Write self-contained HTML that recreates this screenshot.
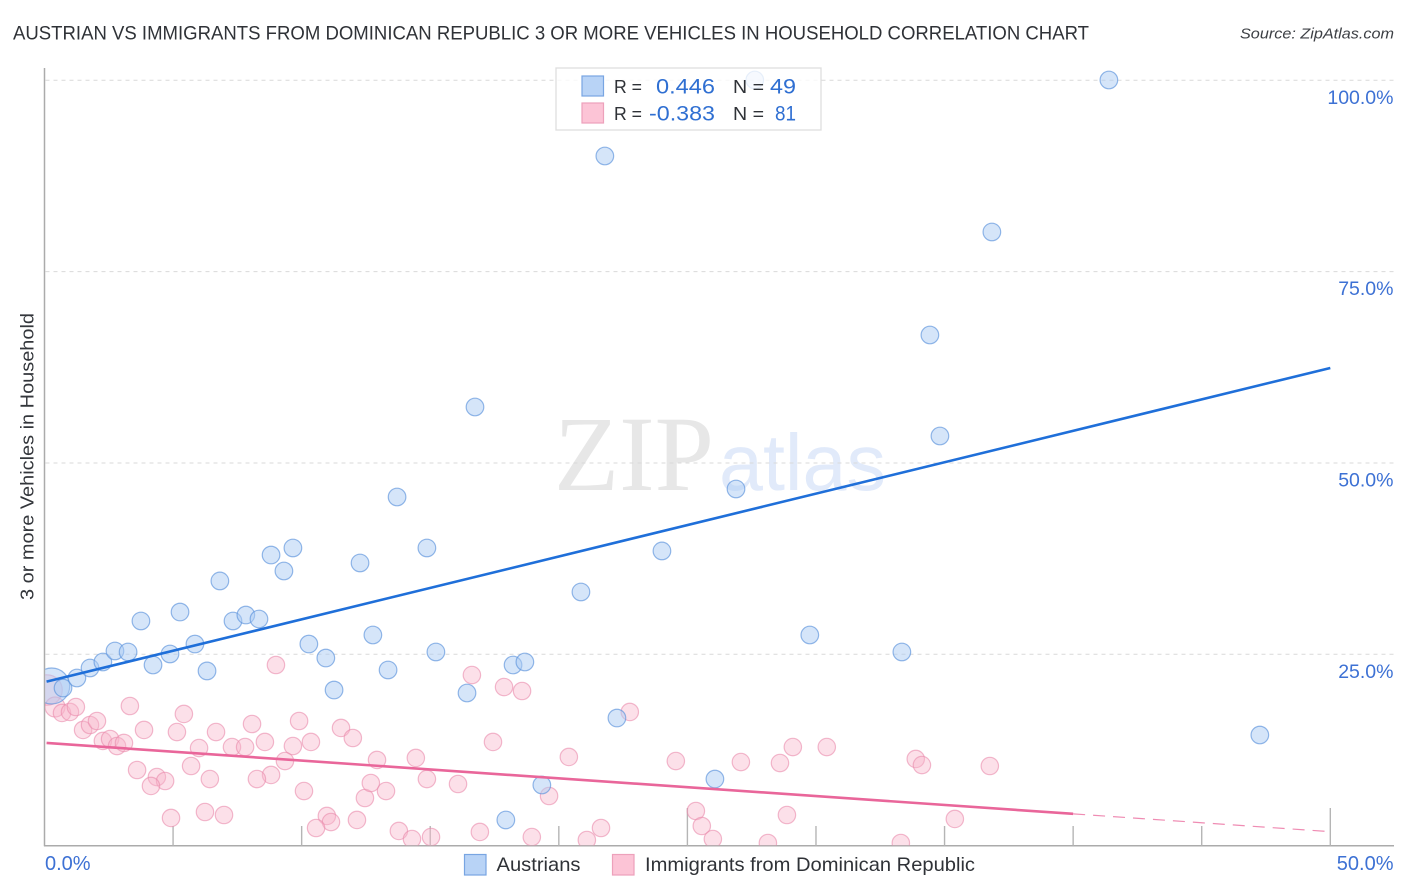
<!DOCTYPE html>
<html lang="en">
<head>
<meta charset="utf-8">
<title>Austrian vs Immigrants from Dominican Republic correlation chart</title>
<style>
html,body{margin:0;padding:0;background:#fff;}
body{width:1406px;height:892px;overflow:hidden;}
svg{display:block;font-family:"Liberation Sans",sans-serif;}
</style>
</head>
<body>
<svg id="chart" width="1406" height="892" viewBox="0 0 1406 892" xmlns="http://www.w3.org/2000/svg">
  <defs><clipPath id="plot-clip"><rect x="45.2" y="55" width="1349" height="790.4"/></clipPath></defs>
  <text x="13" y="39.5" font-size="19.5" fill="#2f3237" textLength="1076" lengthAdjust="spacingAndGlyphs">AUSTRIAN VS IMMIGRANTS FROM DOMINICAN REPUBLIC 3 OR MORE VEHICLES IN HOUSEHOLD CORRELATION CHART</text>
  <text x="1394" y="38.5" font-size="15" font-style="italic" fill="#3c3f44" text-anchor="end" textLength="154" lengthAdjust="spacingAndGlyphs">Source: ZipAtlas.com</text>
  <text x="554" y="490" font-family="'Liberation Serif',serif" font-size="107" fill="#e7e7e7" textLength="160" lengthAdjust="spacingAndGlyphs">ZIP</text>
  <text x="719" y="490" font-size="80" fill="#e1eafa" textLength="167" lengthAdjust="spacingAndGlyphs">atlas</text>
  <g id="grid"></g>
  <g id="axes"></g>
  <g id="plot" clip-path="url(#plot-clip)">
    <g id="pink-points"></g>
    <g id="blue-points"></g>
    <g id="lines"></g>
  </g>
  <text x="0" y="0" transform="translate(33.5,456.5) rotate(-90)" font-size="18.5" fill="#33363b" text-anchor="middle" textLength="287" lengthAdjust="spacingAndGlyphs">3 or more Vehicles in Household</text>
  <g id="tick-labels"></g>
  <g>
    <rect x="556" y="68" width="265" height="62" fill="#fff" fill-opacity="0.78" stroke="#dedede" stroke-width="1.3"/>
    <rect x="582" y="76" width="21.5" height="20" fill="#b8d3f6" stroke="#78a5e2" stroke-width="1.2"/>
    <rect x="582" y="103" width="21.5" height="20" fill="#fcc4d6" stroke="#eda1bb" stroke-width="1.2"/>
    <text x="614" y="93" font-size="18.5" fill="#2f3237" textLength="28" lengthAdjust="spacingAndGlyphs">R =</text>
    <text x="656" y="93.5" font-size="21.5" fill="#2f6fd2" textLength="59" lengthAdjust="spacingAndGlyphs">0.446</text>
    <text x="733" y="93" font-size="18.5" fill="#2f3237" textLength="31" lengthAdjust="spacingAndGlyphs">N =</text>
    <text x="770" y="93.5" font-size="21.5" fill="#2f6fd2" textLength="26" lengthAdjust="spacingAndGlyphs">49</text>
    <text x="614" y="120" font-size="18.5" fill="#2f3237" textLength="28" lengthAdjust="spacingAndGlyphs">R =</text>
    <text x="649" y="120.5" font-size="21.5" fill="#2f6fd2" textLength="66" lengthAdjust="spacingAndGlyphs">-0.383</text>
    <text x="733" y="120" font-size="18.5" fill="#2f3237" textLength="31" lengthAdjust="spacingAndGlyphs">N =</text>
    <text x="775" y="120.5" font-size="21.5" fill="#2f6fd2" textLength="21" lengthAdjust="spacingAndGlyphs">81</text>
  </g>
  <g>
    <rect x="464.5" y="854.5" width="21.5" height="20.5" fill="#b8d3f6" stroke="#78a5e2" stroke-width="1.2"/>
    <text x="496.5" y="871" font-size="19.5" fill="#2f3237" textLength="84" lengthAdjust="spacingAndGlyphs">Austrians</text>
    <rect x="612.5" y="854.5" width="21.5" height="20.5" fill="#fcc4d6" stroke="#eda1bb" stroke-width="1.2"/>
    <text x="645" y="871" font-size="19.5" fill="#2f3237" textLength="330" lengthAdjust="spacingAndGlyphs">Immigrants from Dominican Republic</text>
  </g>
</svg>
<script>
const austriansX = [0.28,0.72,1.26,1.77,2.27,2.74,3.25,4.22,4.88,3.75,5.27,5.85,6.32,6.82,7.33,7.83,8.34,8.81,9.31,9.66,10.28,10.94,11.26,12.27,12.77,13.36,13.71,14.87,15.22,16.43,16.74,18.22,18.68,19.34,17.94,20.86,21.79,22.26,24.01,26.07,26.89,27.62,29.76,33.34,34.43,34.82,36.84,41.39,47.26];
const austriansY = [20.85,20.59,21.90,23.21,23.99,25.43,25.30,23.60,25.04,29.35,30.52,26.34,22.82,34.58,29.35,30.13,29.61,37.97,35.88,38.89,26.34,24.51,20.33,36.93,27.52,22.95,45.55,38.89,25.30,19.94,57.31,23.60,23.99,7.92,3.35,33.14,90.11,16.67,38.50,8.70,46.60,100.04,27.52,25.30,66.72,53.52,80.18,100.04,14.45];
const immigrantsX = [0.10,0.41,0.68,0.99,1.22,1.50,1.77,2.04,3.32,3.87,2.27,2.55,2.82,3.09,3.60,4.37,4.69,4.14,5.42,5.15,6.67,6.01,5.70,6.43,4.92,6.24,6.98,8.07,7.29,7.80,8.57,9.66,10.36,9.90,9.35,8.81,8.26,10.09,9.00,11.53,11.99,10.98,11.14,10.56,12.15,12.46,12.93,12.69,13.28,14.44,14.87,16.08,17.44,16.62,17.87,18.57,22.76,20.39,24.55,19.62,13.78,14.29,15.03,16.93,18.95,21.09,21.64,25.33,25.56,25.99,28.13,27.08,28.60,29.10,30.42,28.87,33.30,33.88,34.12,35.40,36.76];
const immigrantsY = [20.33,18.11,17.33,17.46,18.11,15.11,15.76,16.28,18.24,15.11,13.67,13.93,13.01,13.41,9.88,8.96,8.44,7.79,17.20,14.84,14.84,12.75,10.40,8.70,3.61,4.39,4.00,15.89,12.88,12.88,13.54,13.01,13.54,16.28,11.05,9.23,8.70,7.13,23.60,15.37,14.06,3.87,3.08,2.30,3.35,6.22,11.19,8.18,7.13,11.45,8.70,8.05,13.54,22.29,20.72,20.20,17.46,11.58,11.05,6.48,1.91,0.86,1.12,1.78,1.12,0.73,2.30,4.52,2.56,0.86,0.34,10.92,10.79,12.88,12.88,4.00,0.34,11.32,10.53,3.48,10.40];
const austriansSample = [3.6,1];
const immigrantsSample = [2.6,1.15];
const austriansTrendX = [0.08,50];
const austriansTrendY = [21.42,62.41];
const immigrantsTrendX = [0.08,40];
const immigrantsTrendY = [13.41,4.15];
const immigrantsProjectionX = [40,50];
const immigrantsProjectionY = [4.15,1.82];
const yTickValues = [100,75,50,25];
const yTickLabels = ['100.0%','75.0%','50.0%','25.0%'];
const xTickValues = [5,10,15,20,25,30,35,40,45,50];
const xEndValues = [0,50];
const xEndLabels = ['0.0%','50.0%'];

const NS = 'http://www.w3.org/2000/svg';
function sx(v){ return 44.5 + v * 25.716; }
function sy(v){ return 845.6 - v * 7.653; }
function make(tag, attrs, parent){
  const el = document.createElementNS(NS, tag);
  for (const k in attrs) el.setAttribute(k, attrs[k]);
  parent.appendChild(el);
  return el;
}
const grid = document.getElementById('grid');
const axes = document.getElementById('axes');
const tickLabels = document.getElementById('tick-labels');
const lines = document.getElementById('lines');

yTickValues.forEach(function(v, i){
  const g = make('line', {x1:45.5, x2:1394, y1:sy(v), y2:sy(v), stroke:'#d9d9d9', 'stroke-width':1, 'stroke-dasharray':'4 4'}, grid);
  
  
  const t = make('text', {x:1393.5, y:sy(v)+23.5, 'font-size':19.5, fill:'#3d71d4', 'text-anchor':'end'}, tickLabels);
  
  
  t.textContent = yTickLabels[i];
});

const yAxis = make('line', {x1:44.5, x2:44.5, y1:68, y2:846.3, stroke:'#ababab', 'stroke-width':1.5}, axes);


const xAxis = make('line', {x1:44, x2:1394, y1:845.7, y2:845.7, stroke:'#ababab', 'stroke-width':1.5}, axes);



xTickValues.forEach(function(v){
  const tall = v % 25 === 0;
  const tick = make('line', {x1:sx(v), x2:sx(v), y1:tall ? 808 : 826, y2:845.7, stroke:'#b5b5b5', 'stroke-width':1.4}, axes);
  
  
});

xEndValues.forEach(function(v, i){
  const t = make('text', {x: i === 0 ? sx(v) + 0.5 : 1393.5, y:870, 'font-size':20, fill:'#3d71d4', 'text-anchor': i === 0 ? 'start' : 'end'}, tickLabels);
  
  
  t.textContent = xEndLabels[i];
});

const pinkGroup = document.getElementById('pink-points');
immigrantsX.forEach(function(x, i){
  const s = i < immigrantsSample.length ? immigrantsSample[i] : 1;
  const c = make('circle', {cx:sx(x), cy:sy(immigrantsY[i]), r:8.7*(s > 2 ? 1.75 : s), fill:'#f9b4ca', 'fill-opacity':0.42, stroke:'#e98aab', 'stroke-opacity':0.6, 'stroke-width':1.2}, pinkGroup);
  
  
});

const blueGroup = document.getElementById('blue-points');
austriansX.forEach(function(x, i){
  const s = i < austriansSample.length ? austriansSample[i] : 1;
  const c = make('circle', {cx:sx(x), cy:sy(austriansY[i]), r:s > 2 ? 18 : 8.8, fill:'#abcbf4', 'fill-opacity':0.5, stroke:'#5a92dc', 'stroke-opacity':0.65, 'stroke-width':1.2}, blueGroup);
  
  
});

const pinkLine = make('line', {x1:sx(immigrantsTrendX[0]), y1:sy(immigrantsTrendY[0]), x2:sx(immigrantsTrendX[1]), y2:sy(immigrantsTrendY[1]), stroke:'#e9669a', 'stroke-width':2.6}, lines);


const pinkDash = make('line', {x1:sx(immigrantsProjectionX[0]), y1:sy(immigrantsProjectionY[0]), x2:sx(immigrantsProjectionX[1]), y2:sy(immigrantsProjectionY[1]), stroke:'#e9669a', 'stroke-opacity':0.75, 'stroke-width':1.2, 'stroke-dasharray':'12 8'}, lines);


const blueLine = make('line', {x1:sx(austriansTrendX[0]), y1:sy(austriansTrendY[0]), x2:sx(austriansTrendX[1]), y2:sy(austriansTrendY[1]), stroke:'#1f6fd9', 'stroke-width':2.6}, lines);


</script>
</body>
</html>
